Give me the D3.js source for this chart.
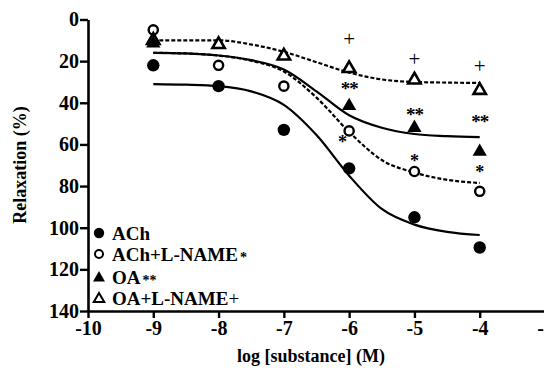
<!DOCTYPE html>
<html>
<head>
<meta charset="utf-8">
<script src="https://cdn.jsdelivr.net/npm/d3@7"></script>
<style>
  body { margin: 0; background: #fff; }
</style>
</head>
<body>
<svg id="chart"></svg>
<script>
const width = 544, height = 368;
const serif = "'Liberation Serif', 'Times New Roman', Tinos, 'DejaVu Serif', serif";

// measured points
const doses = [-9, -8, -7, -6, -5, -4];
const ach = [22, 32, 53, 71.5, 95, 109.5];
const achLname = [5, 22, 32, 53.5, 73, 82.5];
const oa = [11.5, null, null, 41.5, 52, 63.5];
const oaLname = [10, 12, 17.5, 23.5, 29, 34];

// fitted curves
const fitX = [-9, -8.5, -8, -7.5, -7, -6.5, -6, -5.5, -5, -4.5, -4];
const achFit = [31, 31.3, 32, 34.5, 41, 55.5, 75, 91, 98.5, 102, 103.5];
const achLnameFit = [16, 16.3, 17.3, 19.8, 25, 37.5, 54, 67.5, 73.5, 77, 78.5];
const oaFit = [16, 16.3, 17.3, 19.5, 24, 34.5, 46, 52, 55, 56, 56.5];
const oaLnameFit = [10, 10, 10, 12, 15.5, 20.5, 25.5, 28.8, 30, 30.3, 30.5];

// significance marks
const plusX = [-6, -5, -4], plusY = [9.8, 19.4, 22.7];
const dblX = [-6, -5, -4], dblY = [31.4, 44, 47.3];
const sglX = [-6.1, -5, -4], sglY = [57, 66, 71.3];

const xTicks = [-10, -9, -8, -7, -6, -5, -4, -3];
const yTicks = [0, 20, 40, 60, 80, 100, 120, 140];

const svg = d3.select('#chart')
  .attr('width', width)
  .attr('height', height)
  .attr('viewBox', [0, 0, width, height])
  .style('font-family', serif);

const x = d3.scaleLinear().domain([-10, -3]).range([88, 545]);
const y = d3.scaleLinear().domain([0, 140]).range([19.5, 311]);

// axes
const xAxis = svg.append('g')
  .attr('transform', `translate(0,${y(140)})`)
  .call(d3.axisBottom(x).tickValues(xTicks).tickSize(7).tickSizeOuter(0).tickPadding(3));
const yAxis = svg.append('g')
  .attr('transform', `translate(${x(-10)},0)`)
  .call(d3.axisLeft(y).tickValues(yTicks).tickSize(8).tickSizeOuter(0).tickPadding(1));

[xAxis, yAxis].forEach(a => {
  a.attr('font-family', null);
  a.select('.domain').attr('stroke', '#000').attr('stroke-width', 2.6);
  a.selectAll('.tick line').attr('stroke', '#000').attr('stroke-width', 2.4);
  a.selectAll('.tick text')
    .style('font-family', serif)
    .attr('font-weight', 'bold')
    .attr('font-size', 20)
    .attr('fill', '#000');
});
xAxis.selectAll('.tick text').text(d => '-' + Math.abs(d));

// axis titles
svg.append('text')
  .attr('x', 311).attr('y', 362)
  .attr('text-anchor', 'middle')
  .style('font-family', serif)
  .attr('font-weight', 'bold').attr('font-size', 18)
  .text('log [substance] (M)');

svg.append('text')
  .attr('transform', 'translate(26,165) rotate(-90)')
  .attr('text-anchor', 'middle')
  .style('font-family', serif)
  .attr('font-weight', 'bold').attr('font-size', 18)
  .text('Relaxation (%)');

// curves
const line = d3.line()
  .x((d, i) => x(fitX[i]))
  .y(d => y(d))
  .curve(d3.curveMonotoneX);

const curves = [
  { v: achFit, dash: null },
  { v: achLnameFit, dash: '4,2' },
  { v: oaFit, dash: null },
  { v: oaLnameFit, dash: '4,2' }
];
svg.append('g').selectAll('path')
  .data(curves)
  .enter().append('path')
    .attr('d', d => line(d.v))
    .attr('fill', 'none')
    .attr('stroke', '#000')
    .attr('stroke-width', 2.2)
    .attr('stroke-dasharray', d => d.dash);

// points
const triFilled = d3.symbol().type(d3.symbolTriangle).size(88);
const triOpen = d3.symbol().type(d3.symbolTriangle).size(66);

const pts = svg.append('g');
function pointsOf(vals) {
  return doses.map((d, i) => ({ x: d, v: vals[i] })).filter(p => p.v != null);
}
pts.selectAll('.ach').data(pointsOf(ach)).enter().append('circle')
  .attr('cx', d => x(d.x)).attr('cy', d => y(d.v)).attr('r', 6.2).attr('fill', '#000');
pts.selectAll('.achl').data(pointsOf(achLname)).enter().append('circle')
  .attr('cx', d => x(d.x)).attr('cy', d => y(d.v)).attr('r', 4.6)
  .attr('fill', '#fff').attr('stroke', '#000').attr('stroke-width', 2.4);
pts.selectAll('.oal').data(pointsOf(oaLname)).enter().append('path')
  .attr('d', triOpen).attr('transform', d => `translate(${x(d.x)},${y(d.v)})`)
  .attr('fill', '#fff').attr('stroke', '#000').attr('stroke-width', 2.6);
pts.selectAll('.oa').data(pointsOf(oa)).enter().append('path')
  .attr('d', triFilled).attr('transform', d => `translate(${x(d.x)},${y(d.v)})`)
  .attr('fill', '#000');

// significance marks
const marks = svg.append('g').style('font-family', serif);
marks.selectAll('.plus').data(plusX).enter().append('text')
  .attr('x', d => x(d)).attr('y', (d, i) => y(plusY[i]) + 6)
  .attr('text-anchor', 'middle').attr('font-size', 21)
  .text('+');
marks.selectAll('.dbl').data(dblX).enter().append('text')
  .attr('x', d => x(d)).attr('y', (d, i) => y(dblY[i]) + 10)
  .attr('text-anchor', 'middle').attr('font-size', 19).attr('font-weight', 'bold')
  .attr('letter-spacing', -1)
  .text('**');
marks.selectAll('.sgl').data(sglX).enter().append('text')
  .attr('x', d => x(d)).attr('y', (d, i) => y(sglY[i]) + 10)
  .attr('text-anchor', 'middle').attr('font-size', 18).attr('font-weight', 'bold')
  .text('*');

// legend
const legendNames = ['ACh', 'ACh+L-NAME', 'OA', 'OA+L-NAME'];
const legendTags = ['', '*', '**', '+'];
const legendY = [233, 254, 277, 298];
const legend = svg.append('g').style('font-family', serif);
legendNames.forEach((name, i) => {
  const cy = legendY[i], cx = 99;
  if (i === 0) legend.append('circle').attr('cx', cx).attr('cy', cy).attr('r', 5.2).attr('fill', '#000');
  if (i === 1) legend.append('circle').attr('cx', cx).attr('cy', cy).attr('r', 4)
    .attr('fill', '#fff').attr('stroke', '#000').attr('stroke-width', 2);
  if (i === 2) legend.append('path').attr('d', d3.symbol().type(d3.symbolTriangle).size(62))
    .attr('transform', `translate(${cx},${cy + 1})`).attr('fill', '#000');
  if (i === 3) legend.append('path').attr('d', d3.symbol().type(d3.symbolTriangle).size(48))
    .attr('transform', `translate(${cx},${cy + 1})`).attr('fill', '#fff')
    .attr('stroke', '#000').attr('stroke-width', 2);
  const t = legend.append('text')
    .attr('x', 112).attr('y', cy + 7)
    .attr('font-size', 19).attr('font-weight', 'bold');
  t.append('tspan').text(name);
  if (legendTags[i] === '+') {
    t.append('tspan').attr('font-weight', 'normal').text('+');
  } else if (legendTags[i]) {
    t.append('tspan').attr('dx', 2).attr('font-size', 14).attr('dy', 1).text(legendTags[i]);
  }
});
</script>
</body>
</html>
